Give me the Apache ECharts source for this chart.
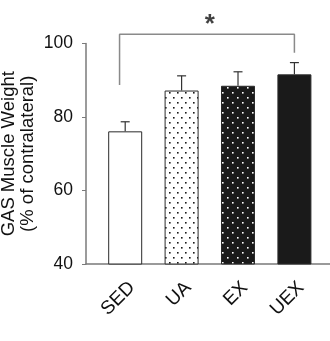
<!DOCTYPE html>
<html>
<head>
<meta charset="utf-8">
<script src="https://cdn.jsdelivr.net/npm/echarts@6/dist/echarts.min.js"></script>
<style>
  html, body { margin: 0; padding: 0; background: #fff; }
  #chart { width: 330px; height: 341px; }
</style>
</head>
<body>
<div id="chart"></div>
<script>
// Gastrocnemius weight by group, % of the contralateral muscle (mean + SEM)
const categories = ['SED', 'UA', 'EX', 'UEX'];
const means = [76.1, 87.2, 88.5, 91.6];
const sems = [2.6, 4.0, 3.8, 3.2];
const yTicks = [40, 60, 80, 100];
// significance bracket SED vs UEX: [x, y] in axis units
const bracket = [[0.9, 88.7], [0.9, 102.5], [4.0, 102.5], [4.0, 97.5]];
const starPos = [2.5, 105.2];

const FONT = 'Liberation Sans, Arial, sans-serif';

function dotPattern(bg, dot, w, h, dots, r) {
  const c = document.createElement('canvas');
  c.width = w; c.height = h;
  const g = c.getContext('2d');
  g.fillStyle = bg; g.fillRect(0, 0, w, h);
  g.fillStyle = dot;
  dots.forEach(([x, y]) => g.fillRect(x, y, r, r));
  return { image: c, repeat: 'repeat' };
}

const fills = [
  '#ffffff',
  dotPattern('#ffffff', '#1a1a1a', 8, 10, [[1, 2], [5, 7]], 1.6),
  dotPattern('#1a1a1a', '#ffffff', 10, 10, [[2, 2], [7, 7]], 1.6),
  '#1a1a1a'
];

const xs = categories.map((_, i) => i + 1);

const chart = echarts.init(document.getElementById('chart'), null, { renderer: 'canvas' });
chart.setOption({
  animation: false,
  backgroundColor: '#fff',
  grid: { left: 86, right: 0, top: 43.5, bottom: 77, containLabel: false, outerBoundsMode: 'none' },
  xAxis: {
    type: 'value',
    min: 0.305,
    max: 4.631,
    splitLine: { show: false },
    axisLine: { show: true, lineStyle: { color: '#7a7a7a', width: 1.5 } },
    axisTick: { show: false },
    axisLabel: {
      customValues: xs,
      formatter: v => categories[Math.round(v) - 1] || '',
      rotate: 45,
      margin: 14,
      verticalAlign: 'top',
      fontSize: 19,
      fontFamily: FONT,
      color: '#111'
    }
  },
  yAxis: {
    type: 'value',
    min: 40,
    max: 100,
    interval: 20,
    splitLine: { show: false },
    axisLine: { show: true, lineStyle: { color: '#7a7a7a', width: 1.5 } },
    axisTick: { show: true, inside: false, length: 4, lineStyle: { color: '#7a7a7a', width: 1 } },
    axisLabel: {
      customValues: yTicks,
      margin: 13,
      fontSize: 17.5,
      fontFamily: FONT,
      color: '#111'
    },
    name: 'GAS Muscle Weight\n(% of contralateral)',
    nameLocation: 'middle',
    nameRotate: 90,
    nameGap: 49,
    nameMoveOverlap: false,
    nameTextStyle: { fontSize: 18.5, fontFamily: FONT, color: '#111', lineHeight: 18.5 }
  },
  series: [
    {
      type: 'bar',
      barWidth: 34,
      data: means.map((m, i) => ({
        value: [xs[i], m],
        itemStyle: { color: fills[i], borderColor: '#2a2a2a', borderWidth: 1 }
      })),
      z: 2
    },
    {
      type: 'custom',
      data: means.map((m, i) => [xs[i], m, m + sems[i]]),
      renderItem: (params, api) => {
        const lo = api.coord([api.value(0), api.value(1)]);
        const hi = api.coord([api.value(0), api.value(2)]);
        const style = { stroke: '#333', lineWidth: 1.2 };
        return {
          type: 'group',
          children: [
            { type: 'line', shape: { x1: lo[0], y1: lo[1], x2: hi[0], y2: hi[1] }, style },
            { type: 'line', shape: { x1: hi[0] - 4.5, y1: hi[1], x2: hi[0] + 4.5, y2: hi[1] }, style }
          ]
        };
      },
      z: 3
    },
    {
      type: 'line',
      data: bracket,
      clip: false,
      symbol: 'none',
      lineStyle: { color: '#8a8a8a', width: 1.5 },
      z: 4
    },
    {
      type: 'scatter',
      data: [starPos],
      clip: false,
      symbolSize: 0,
      label: {
        show: true,
        position: 'inside',
        formatter: '*',
        fontSize: 26,
        fontWeight: 'bold',
        fontFamily: FONT,
        color: '#111'
      },
      z: 5
    }
  ]
});
</script>
</body>
</html>
